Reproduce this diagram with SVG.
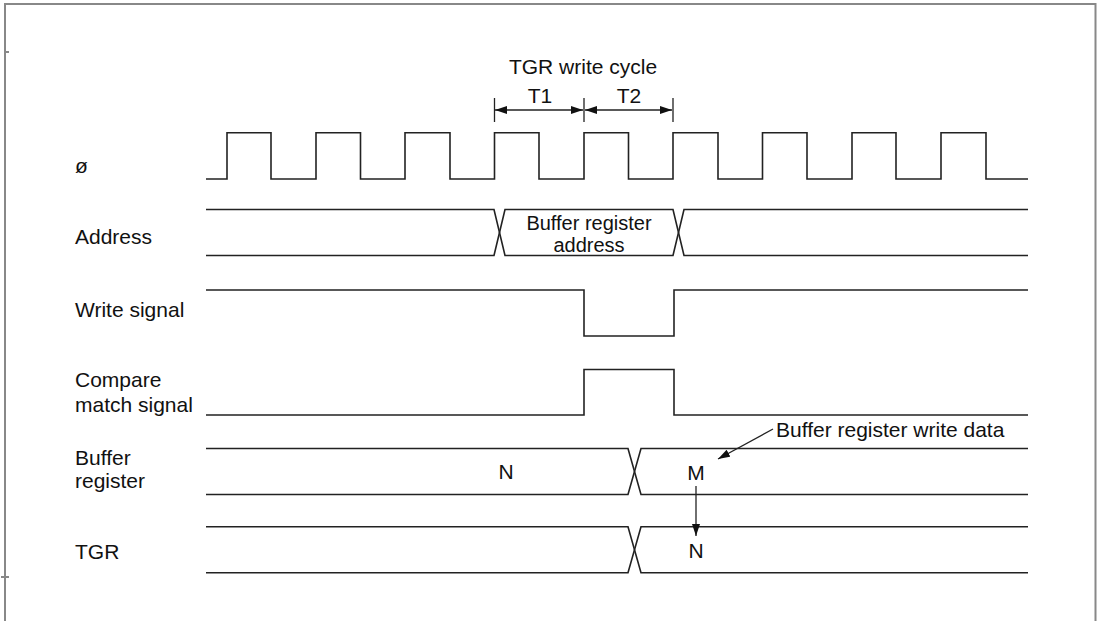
<svg xmlns="http://www.w3.org/2000/svg" width="1100" height="621" viewBox="0 0 1100 621">
<defs>
<style>
.w{fill:none;stroke:#222;stroke-width:1.6}
.f{fill:none;stroke:#888;stroke-width:2}
.t{font-family:"Liberation Sans",Arial,sans-serif;font-size:21px;fill:#111}
.s{font-size:20px}
.m{text-anchor:middle}
.a{fill:none;stroke:#222;stroke-width:1.3}
</style>
<marker id="ah" viewBox="0 0 12 8" refX="12" refY="4" markerWidth="12" markerHeight="8" markerUnits="userSpaceOnUse" orient="auto">
<path d="M0,0 L12,4 L0,8 Z" fill="#111"/>
</marker>
</defs>
<rect width="1100" height="621" fill="#fff"/>
<g id="frame">
<path class="f" d="M5,621 V4 H1095.5 V621"/>
<path class="f" d="M5,52 H9 M1,577 H9" stroke-width="1"/>
</g>
<g id="labels">
<text class="t" x="75" y="173">ø</text>
<text class="t" x="75" y="244">Address</text>
<text class="t" x="75" y="317">Write signal</text>
<text class="t" x="75" y="387">Compare</text>
<text class="t" x="75" y="412">match signal</text>
<text class="t" x="75" y="465">Buffer</text>
<text class="t" x="75" y="488">register</text>
<text class="t" x="75" y="559">TGR</text>
</g>
<g id="clock">
<path class="w" d="M206,179 H227 V132.7 H271 V179 H316 V132.7 H360.5 V179 H405 V132.7 H450 V179 H494.5 V132.7 H539 V179 H584 V132.7 H628.5 V179 H673 V132.7 H718 V179 H762.5 V132.7 H807 V179 H852 V132.7 H896 V179 H941 V132.7 H986 V179 H1028"/>
</g>
<g id="write-cycle">
<text class="t m" x="583" y="74">TGR write cycle</text>
<text class="t m" x="540" y="103">T1</text>
<text class="t m" x="629" y="103">T2</text>
</g>
<g id="address">
<path class="w" d="M206,209.5 H494 L505,255.5 H673 L684,209.5 H1028"/>
<path class="w" d="M206,255.5 H494 L505,209.5 H673 L684,255.5 H1028"/>
<text class="t s m" x="589" y="229.5">Buffer register</text>
<text class="t s m" x="589" y="251.5">address</text>
</g>
<g id="write-signal">
<path class="w" d="M206,290 H584 V336 H674 V290 H1028"/>
</g>
<g id="compare-match">
<path class="w" d="M206,415 H584 V369.5 H674 V415 H1028"/>
</g>
<g id="buffer-register">
<path class="w" d="M206,448.5 H628 L641,494.5 H1028"/>
<path class="w" d="M206,494.5 H628 L641,448.5 H1028"/>
<text class="t m" x="506" y="479">N</text>
<text class="t m" x="696" y="480">M</text>
<text class="t" x="776" y="437">Buffer register write data</text>
</g>
<g id="tgr">
<path class="w" d="M206,526.7 H628 L641,572.7 H1028"/>
<path class="w" d="M206,572.7 H628 L641,526.7 H1028"/>
<text class="t m" x="696" y="558">N</text>
</g>
<g id="connectors">
<path class="a" d="M494.5,98 V122 M584,98 V122 M673,98 V122"/>
<path class="a" d="M539,110 H495" marker-end="url(#ah)"/>
<path class="a" d="M539,110 H583" marker-end="url(#ah)"/>
<path class="a" d="M628,110 H585" marker-end="url(#ah)"/>
<path class="a" d="M628,110 H672" marker-end="url(#ah)"/>
<path class="a" d="M773,429 L718,459" marker-end="url(#ah)"/>
<path class="a" d="M696,486 V536" marker-end="url(#ah)"/>
</g>
</svg>
